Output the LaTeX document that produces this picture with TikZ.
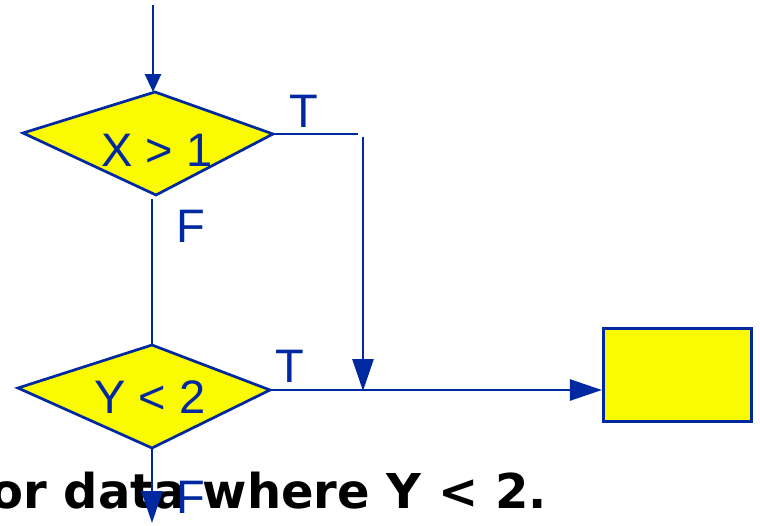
\documentclass[tikz,border=0pt]{standalone}
\usepackage{fontspec}
\setmainfont{Liberation Sans}
\newfontfamily\captfont{DejaVu Sans}
\usetikzlibrary{arrows.meta}
\definecolor{fcblue}{RGB}{0,40,160}
\definecolor{fcyellow}{RGB}{250,250,0}
\begin{document}
\begin{tikzpicture}[x=1pt,y=-1pt,
  line/.style={draw=fcblue,line width=2.7pt},
  arr/.style={line,-{Triangle[length=32pt,width=21pt]}},
  arrsmall/.style={line,-{Triangle[length=18pt,width=16pt]}},
  dec/.style={line,fill=fcyellow,line join=miter},
  lbl/.style={text=fcblue,font=\fontsize{47}{47}\selectfont,inner sep=0pt},
  caption/.style={text=black,font=\captfont\bfseries\fontsize{48}{48}\selectfont,inner sep=0pt},
]
\useasboundingbox (0,0) rectangle (760,525);
\clip (0,0) rectangle (760,525);

% bottom caption text (partly hidden behind the flowchart)
\node[caption,anchor=base east] (cap) at (547,508) {or data where Y < 2.};

% first decision
\coordinate (d1t) at (155,92);
\coordinate (d1r) at (273,134);
\coordinate (d1b) at (156,195);
\coordinate (d1l) at (23,133);
\draw[dec] (d1t) -- (d1r) -- (d1b) -- (d1l) -- cycle;
\node[lbl] (d1) at (157,150) {X > 1};

% second decision
\coordinate (d2t) at (152,345);
\coordinate (d2r) at (270,390);
\coordinate (d2b) at (152,448);
\coordinate (d2l) at (18,388);
\draw[dec] (d2t) -- (d2r) -- (d2b) -- (d2l) -- cycle;
\node[lbl] (d2) at (150,397) {Y < 2};

% process box
\node[draw=fcblue,fill=fcyellow,line width=3.2pt,minimum width=148pt,minimum height=93pt,inner sep=0pt] (box) at (677.5,375) {};

% entry arrow
\coordinate (start) at (153,5);
\draw[arrsmall] (start) -- (153,92);

% True branch of first decision
\coordinate (t1end) at (358,134);
\draw[line] (d1r) -- (t1end);
\coordinate (vtop) at (363,137);
\coordinate (vbot) at (363,391);
\draw[arr] (vtop) -- (vbot);
\node[lbl] (T1) at (304,111) {T};

% False branch of first decision
\coordinate (f1top) at (152,199);
\draw[line] (f1top) -- (d2t);
\node[lbl] (F1) at (191,226) {F};

% True branch of second decision
\draw[arr] (d2r) -- (box.west |- d2r);
\node[lbl] (T2) at (290,366) {T};

% False branch of second decision
\coordinate (bend) at (152,523);
\draw[arr] (d2b) -- (bend);
\node[lbl] (F2) at (191,497) {F};
\end{tikzpicture}
\end{document}
